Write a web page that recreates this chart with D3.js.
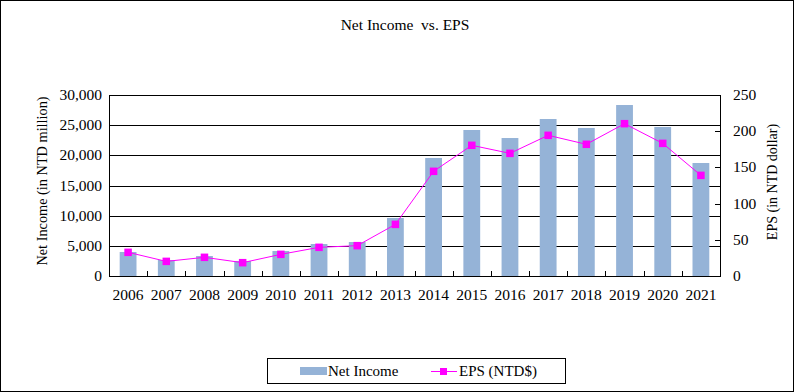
<!DOCTYPE html>
<html><head><meta charset="utf-8">
<script src="https://cdn.jsdelivr.net/npm/d3@7/dist/d3.min.js"></script>
<style>body{margin:0;background:#fff}svg{display:block}</style>
</head><body><div id="chart"></div>
<script>
const years = ["2006","2007","2008","2009","2010","2011","2012","2013","2014","2015","2016","2017","2018","2019","2020","2021"];
const netIncome = [3980,2650,3310,2490,4140,5300,5630,9610,19560,24200,22870,26020,24530,28340,24700,18730];
const eps = [32.7,20.2,25.8,18.4,29.9,39.6,41.9,71.3,144.6,180.5,169.4,194.3,181.9,210.4,183.2,139.0];
const leftTicks = [0,5000,10000,15000,20000,25000,30000];
const rightTicks = [0,50,100,150,200,250];

const W=794,H=392;
const FONT="'Liberation Serif', 'Times New Roman', Times, serif";
const m={left:109,right:720,top:95,bottom:276};
const svg=d3.select("#chart").append("svg").attr("width",W).attr("height",H)
 .attr("font-family",FONT).attr("font-size","15.5px");
svg.append("rect").attr("x",0.5).attr("y",0.5).attr("width",W-1).attr("height",H-1).attr("fill","#fff").attr("stroke","#000");

const x=d3.scaleBand().domain(years).range([m.left,m.right]).paddingInner(0.56).paddingOuter(0.28);
const xb=d3.scaleBand().domain(years).range([m.left,m.right]);
const yL=d3.scaleLinear().domain([0,30000]).range([m.bottom,m.top]);
const yR=d3.scaleLinear().domain([0,250]).range([m.bottom,m.top]);

svg.append("g").selectAll("line").data(leftTicks).join("line")
 .attr("x1",m.left).attr("x2",m.right).attr("y1",d=>Math.round(yL(d))+0.5).attr("y2",d=>Math.round(yL(d))+0.5)
 .attr("stroke","#000").attr("stroke-width",1);

svg.append("g").selectAll("rect").data(netIncome).join("rect")
 .attr("x",(d,i)=>x(years[i])).attr("width",x.bandwidth())
 .attr("y",d=>yL(d)).attr("height",d=>yL(0)-yL(d)).attr("fill","#95B3D7");

svg.append("rect").attr("x",m.left+0.5).attr("y",m.top+0.5).attr("width",m.right-m.left).attr("height",m.bottom-m.top)
 .attr("fill","none").attr("stroke","#000");

const bounds=years.slice(1).map(y=>xb(y));
svg.append("g").selectAll("line").data(bounds).join("line")
 .attr("x1",d=>Math.round(d)+0.5).attr("x2",d=>Math.round(d)+0.5).attr("y1",m.bottom-5).attr("y2",m.bottom)
 .attr("stroke","#000");
svg.append("g").selectAll("text").data(years).join("text")
 .attr("x",d=>xb(d)+xb.bandwidth()/2).attr("y",300).attr("text-anchor","middle").text(d=>d);

const fmt=d3.format(",");
svg.append("g").selectAll("text").data(leftTicks).join("text")
 .attr("x",102).attr("y",d=>yL(d)+5).attr("text-anchor","end").text(d=>fmt(d));
svg.append("g").selectAll("line").data(rightTicks).join("line")
 .attr("x1",m.right-5).attr("x2",m.right).attr("y1",d=>Math.round(yR(d))+0.5).attr("y2",d=>Math.round(yR(d))+0.5)
 .attr("stroke","#000");
svg.append("g").selectAll("text").data(rightTicks).join("text")
 .attr("x",733).attr("y",d=>yR(d)+5).attr("text-anchor","start").text(d=>d);

const line=d3.line().x((d,i)=>xb(years[i])+xb.bandwidth()/2).y(d=>yR(d));
svg.append("path").datum(eps).attr("d",line).attr("fill","none").attr("stroke","#FF00FF").attr("stroke-width",1);
svg.append("g").selectAll("rect").data(eps).join("rect")
 .attr("x",(d,i)=>xb(years[i])+xb.bandwidth()/2-3.75).attr("y",d=>yR(d)-3.75)
 .attr("width",7.5).attr("height",7.5).attr("fill","#FF00FF");

svg.append("text").attr("x",405).attr("y",30).attr("text-anchor","middle").style("white-space","pre").text("Net Income  vs. EPS");
svg.append("text").attr("transform","translate(47,181) rotate(-90)").attr("text-anchor","middle").attr("font-size","14.3px").text("Net Income (in NTD million)");
svg.append("text").attr("transform","translate(776.5,182) rotate(-90)").attr("text-anchor","middle").attr("font-size","14px").text("EPS (in NTD dollar)");

const lg=svg.append("g").attr("font-size","15px");
lg.append("rect").attr("x",267.5).attr("y",358.5).attr("width",298).attr("height",25).attr("fill","#fff").attr("stroke","#000");
lg.append("rect").attr("x",300).attr("y",367).attr("width",27).attr("height",8).attr("fill","#95B3D7");
lg.append("text").attr("x",328).attr("y",376).text("Net Income");
lg.append("line").attr("x1",431).attr("x2",457).attr("y1",371.5).attr("y2",371.5).attr("stroke","#FF00FF");
lg.append("rect").attr("x",440).attr("y",368).attr("width",7).attr("height",7).attr("fill","#FF00FF");
lg.append("text").attr("x",459).attr("y",376).text("EPS (NTD$)");
</script></body></html>
